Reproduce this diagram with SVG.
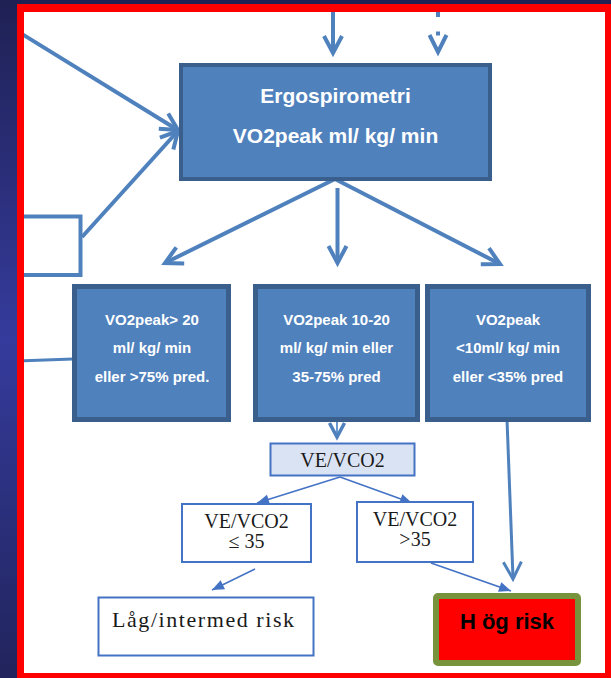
<svg xmlns="http://www.w3.org/2000/svg" width="611" height="678" viewBox="0 0 611 678">
<defs>
<linearGradient id="bg" x1="0" y1="0" x2="0" y2="1">
<stop offset="0" stop-color="#1F2154"/>
<stop offset="0.5" stop-color="#353B9C"/>
<stop offset="1" stop-color="#21245C"/>
</linearGradient>
<clipPath id="inner">
<rect x="24" y="12" width="581" height="661"/>
</clipPath>
<marker id="tri" markerUnits="userSpaceOnUse" markerWidth="20" markerHeight="20" viewBox="-15 -10 20 20" refX="0" refY="0" orient="auto" overflow="visible">
<path d="M-12,-5 L0,0 L-12,5 Z" fill="#4472C4"/>
</marker>
<style>
.box{fill:#4F81BD;stroke:#3A5F8C;}
.wt{font-family:"Liberation Sans",Arial,sans-serif;font-weight:bold;fill:#FFFFFF;text-anchor:middle;}
.st{font-family:"Liberation Serif","Times New Roman",serif;fill:#1A1A1A;text-anchor:middle;}
.ob{fill:#FFFFFF;stroke:#4472C4;stroke-width:2;}
.thick{fill:none;stroke:#4F81BD;stroke-width:4;stroke-linejoin:miter;}
.mid{fill:none;stroke:#4F81BD;stroke-width:3;}
.thin{fill:none;stroke:#4472C4;stroke-width:1.5;marker-end:url(#tri);}
</style>
</defs>
<rect width="611" height="678" fill="url(#bg)"/>
<rect x="24" y="12" width="581" height="661" fill="#FFFFFF"/>

<g id="connectors" clip-path="url(#inner)">
<path class="thick" d="M333,0 V52"/>
<path class="thick" d="M324,36 L333,53 L342,36"/>
<path class="thick" d="M438,-2 V17 M438,31.5 V35.5"/>
<path class="thick" d="M429.5,35 L438,52 L446.5,35"/>
<path class="thick" d="M22,34 L177,129.5"/>
<path class="thick" d="M158.8,128.8 L178,130 L168.2,113.4"/>
<path class="thick" d="M82,237 L177,132"/>
<path class="thick" d="M173.3,149.6 L178,131 L159.9,137.6"/>
<path class="mid" d="M20,361 L73,359"/>
<path class="thick" d="M335,179 L166,262.5"/>
<path class="thick" d="M176.3,247.4 L165,263 L184.2,263.5"/>
<path class="thick" d="M337.5,188 V262"/>
<path class="thick" d="M328.5,246 L337.5,263 L346.5,246"/>
<path class="thick" d="M335,179 L499,263.5"/>
<path class="thick" d="M489,248.2 L500,264 L480.8,264.2"/>
<path fill="none" stroke="#6B97CF" stroke-width="2" d="M337,396 V436"/>
<path fill="none" stroke="#4F81BD" stroke-width="3.5" d="M329.5,423 L337,437 L344.5,423"/>
<path class="mid" d="M506.5,406 L513,578"/>
<path class="mid" d="M503.4,562.3 L513,579 L521.4,561.7"/>
<path class="thin" d="M340,477 L257,503"/>
<path class="thin" d="M340,477 L412,503"/>
<path class="thin" d="M255,569 L212,590"/>
<path class="thin" d="M431,563 L511,591"/>
</g>

<g id="side-box" clip-path="url(#inner)">
<rect x="-20" y="216.5" width="100.5" height="58.5" fill="none" stroke="#4F81BD" stroke-width="4"/>
</g>

<g id="ergo">
<rect class="box" x="181" y="65" width="309" height="114" stroke-width="4"/>
<text class="wt" x="335.5" y="103" font-size="21">Ergospirometri</text>
<text class="wt" x="335.5" y="143" font-size="21">VO2peak ml/ kg/ min</text>
</g>

<g id="vo2-high">
<rect class="box" x="74.5" y="286.5" width="154" height="133" stroke-width="5"/>
<text class="wt" x="152" y="325" font-size="15">VO2peak&gt; 20</text>
<text class="wt" x="152" y="353" font-size="15">ml/ kg/ min</text>
<text class="wt" x="152" y="382" font-size="15">eller &gt;75% pred.</text>
</g>

<g id="vo2-mid">
<rect class="box" x="255.5" y="286.5" width="162" height="133" stroke-width="5"/>
<text class="wt" x="336.5" y="325" font-size="15">VO2peak 10-20</text>
<text class="wt" x="336.5" y="353" font-size="15">ml/ kg/ min eller</text>
<text class="wt" x="336.5" y="382" font-size="15">35-75% pred</text>
</g>

<g id="vo2-low">
<rect class="box" x="427.5" y="286.5" width="161" height="133" stroke-width="5"/>
<text class="wt" x="508" y="325" font-size="15">VO2peak</text>
<text class="wt" x="508" y="353" font-size="15">&lt;10ml/ kg/ min</text>
<text class="wt" x="508" y="382" font-size="15">eller &lt;35% pred</text>
</g>

<g id="vevco2">
<rect x="270.5" y="443.5" width="144" height="32" fill="#DAE3F3" stroke="#4472C4" stroke-width="2"/>
<text class="st" x="342.5" y="467" font-size="20">VE/VCO2</text>
</g>

<g id="vevco2-low">
<rect class="ob" x="182" y="504" width="129" height="58"/>
<text class="st" x="246.5" y="528" font-size="20">VE/VCO2</text>
<text class="st" x="246.5" y="548" font-size="20">≤ 35</text>
</g>

<g id="vevco2-high">
<rect class="ob" x="357" y="502" width="116" height="60"/>
<text class="st" x="415" y="526" font-size="20">VE/VCO2</text>
<text class="st" x="415" y="546" font-size="20">&gt;35</text>
</g>

<g id="low-risk">
<rect class="ob" x="98.5" y="597.5" width="215" height="58"/>
<text class="st" x="203" y="627" font-size="22" textLength="182" lengthAdjust="spacing">Låg/intermed risk</text>
</g>

<g id="high-risk">
<rect x="436" y="596" width="142" height="67" rx="2" fill="#FF0000" stroke="#77933C" stroke-width="6"/>
<text x="507" y="629" font-family="Liberation Sans, Arial, sans-serif" font-weight="bold" font-size="22" fill="#000000" text-anchor="middle">H ög risk</text>
</g>

<path d="M17,4 H611 V678 H17 Z M24,12 V673 H605 V12 Z" fill="#FF0000" fill-rule="evenodd"/>
</svg>
